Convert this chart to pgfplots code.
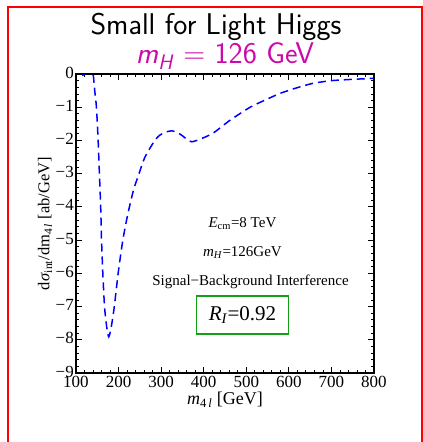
\documentclass[border=0pt]{standalone}
\usepackage{fontspec}
\setmainfont{Liberation Serif}
\usepackage{pgfplots}
\pgfplotsset{compat=1.18}
\definecolor{titlemag}{RGB}{204,10,170}
\definecolor{boxgreen}{RGB}{20,160,20}
\begin{document}
\begin{tikzpicture}
\useasboundingbox (0pt,-442pt) rectangle (423pt,0pt);
% slide frame
\draw[red, line width=2pt] (8pt,-442pt) -- (8pt,-7pt) -- (421.5pt,-7pt) -- (421.5pt,-442pt);
\node[font=\sffamily\fontsize{30}{34}\selectfont, anchor=base, inner sep=0pt] at (216pt,-34pt) {Small for Light Higgs};
\node[font=\sffamily\fontsize{30}{34}\selectfont, text=titlemag, anchor=base, inner sep=0pt] at (225pt,-63pt)
  {\textit{m}\textsubscript{\textit{H}} = 126 GeV};
\begin{axis}[
  at={(76pt,-373pt)}, anchor=south west,
  scale only axis, width=298pt, height=299pt,
  xmin=100, xmax=800, ymin=-9, ymax=0,
  xtick={100,200,...,800}, minor x tick num=4,
  ytick={-9,-8,...,0}, minor y tick num=4,
  xticklabels={100,200,300,400,500,600,700,800},
  yticklabels={−9,−8,−7,−6,−5,−4,−3,−2,−1,0},
  tick align=inside,
  major tick length=6pt, minor tick length=3pt,
  every tick/.style={black, line width=0.8pt},
  axis line style={line width=1.1pt},
  tick label style={font=\fontsize{17}{18}\selectfont},
  xticklabel style={inner sep=1pt, yshift=-1.5pt},
  yticklabel style={inner sep=2pt, yshift=1.5pt},
  xlabel={\textit{m}\textsubscript{4\,\textit{l}} [GeV]},
  ylabel={d\textit{σ}\textsubscript{int}/dm\textsubscript{4\,\textit{l}} [ab/GeV]},
  xlabel style={font=\fontsize{18}{20}\selectfont, yshift=-0.5pt},
  ylabel style={font=\fontsize{16.5}{18}\selectfont, yshift=-2pt},
  clip=true,
]
\addplot[blue, line width=1.5pt, dash pattern=on 8pt off 5pt, smooth, tension=0.4] coordinates {
  (115,-0.05)(122,0.02)(132,0.05)(140,0.0)(144,-0.5)(148,-1.0)(152,-2.0)(155,-3.0)
  (158,-4.0)(160,-5.0)(163,-6.0)(167,-7.0)(172,-7.6)(177,-7.91)(183,-7.6)
  (190,-7.0)(199,-6.0)(210,-5.0)(222,-4.2)(235,-3.5)(248,-3.0)
  (262,-2.5)(285,-2.0)(297,-1.84)(310,-1.75)(325,-1.71)(338,-1.76)(350,-1.86)
  (362,-1.98)(372,-2.04)(390,-1.97)(422,-1.78)(462,-1.39)(509,-1.0)(545,-0.78)
  (580,-0.58)(620,-0.41)(657,-0.28)(700,-0.2)(750,-0.16)(800,-0.13)
};
\node[font=\fontsize{15}{18}\selectfont] at (axis cs:491,-4.49) {\textit{E}\textsubscript{cm}=8 TeV};
\node[font=\fontsize{15}{18}\selectfont] at (axis cs:491,-5.38) {\textit{m}\textsubscript{\textit{H}}=126GeV};
\node[font=\fontsize{15}{18}\selectfont] at (axis cs:510,-6.26) {Signal−Background Interference};
\node[font=\fontsize{21}{24}\selectfont, draw=boxgreen, line width=1.6pt, minimum width=92pt, minimum height=38pt, inner sep=0pt]
  at (axis cs:491,-7.26) {\textit{R}\textsubscript{\textit{I}}=0.92};
\end{axis}
\end{tikzpicture}
\end{document}
